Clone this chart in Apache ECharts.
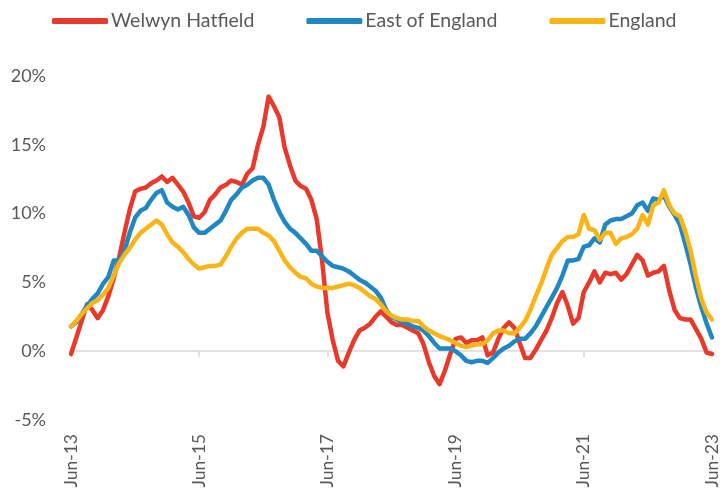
<!DOCTYPE html>
<html><head><meta charset="utf-8">
<script src="https://cdn.jsdelivr.net/npm/echarts@6/dist/echarts.min.js"></script>
<style>html,body{margin:0;padding:0;background:#fff}#c{width:723px;height:504px}</style>
</head><body><div id="c"></div>
<script>
const months = ['Jan','Feb','Mar','Apr','May','Jun','Jul','Aug','Sep','Oct','Nov','Dec'];
const categories = [];
for (let y = 2013, m = 5; categories.length < 121; ) {
  categories.push(months[m] + '-' + String(y).slice(2));
  m++; if (m > 11) { m = 0; y++; }
}
const welwynHatfield = [
-0.2,1.0,2.2,3.4,3.0,2.4,3.0,4.0,5.3,6.8,
8.6,10.3,11.6,11.8,11.9,12.2,12.4,12.7,12.3,12.6,
12.1,11.6,10.8,9.8,9.7,10.1,11.0,11.4,11.9,12.1,
12.4,12.3,12.1,12.9,13.3,15.0,16.3,18.5,17.8,17.0,
14.8,13.5,12.4,12.0,11.8,11.0,9.6,6.6,2.8,0.8,
-0.7,-1.1,-0.1,0.8,1.5,1.7,2.0,2.5,2.9,2.5,
2.1,1.9,1.9,1.7,1.5,1.3,0.5,-0.8,-1.8,-2.4,
-1.4,-0.2,0.9,1.0,0.6,0.8,0.8,1.0,-0.3,-0.1,
0.9,1.7,2.1,1.7,0.6,-0.5,-0.5,0.1,0.8,1.5,
2.4,3.5,4.3,3.3,2.0,2.4,4.3,5.0,5.8,5.0,
5.7,5.6,5.7,5.2,5.6,6.3,7.0,6.6,5.5,5.7,
5.8,6.2,4.4,3.0,2.4,2.3,2.3,1.6,0.9,-0.1,
-0.2];
const eastOfEngland = [
1.8,2.1,2.7,3.3,3.8,4.2,4.9,5.4,6.6,6.6,
7.3,8.6,9.7,10.2,10.4,11.0,11.5,11.7,10.8,10.5,
10.3,10.5,9.9,9.0,8.6,8.6,8.9,9.2,9.5,10.2,
11.0,11.4,11.9,12.1,12.4,12.6,12.6,12.1,11.0,10.1,
9.4,8.9,8.6,8.2,7.8,7.3,7.3,6.9,6.5,6.2,
6.1,6.0,5.8,5.5,5.2,5.0,4.7,4.4,3.9,3.0,
2.5,2.3,2.1,2.0,1.8,1.7,1.5,1.1,0.6,0.2,
0.2,0.2,0.0,-0.3,-0.7,-0.8,-0.7,-0.7,-0.85,-0.5,
-0.1,0.2,0.4,0.7,0.9,0.9,1.3,1.8,2.5,3.2,
3.9,4.6,5.5,6.6,6.6,6.7,7.6,7.7,8.2,7.9,
9.2,9.5,9.6,9.6,9.8,10.0,10.6,10.8,10.2,11.1,
11.0,11.3,10.5,9.9,9.2,7.8,6.3,4.6,3.2,2.0,
1.0];
const england = [
1.8,2.2,2.7,3.1,3.5,3.7,4.1,4.6,5.5,6.4,
7.0,7.5,8.1,8.6,8.9,9.2,9.5,9.2,8.5,7.9,
7.6,7.2,6.7,6.3,6.0,6.1,6.2,6.2,6.3,6.9,
7.6,8.2,8.6,8.9,8.9,8.9,8.6,8.4,8.0,7.3,
6.6,6.1,5.7,5.4,5.3,4.9,4.7,4.6,4.6,4.6,
4.7,4.8,4.9,4.8,4.6,4.3,4.0,3.8,3.4,2.9,
2.6,2.4,2.3,2.3,2.2,2.2,1.8,1.5,1.3,1.1,
0.95,0.8,0.6,0.4,0.3,0.4,0.5,0.5,0.8,1.3,
1.5,1.5,1.3,1.3,1.7,2.2,3.0,4.0,4.9,6.0,
7.0,7.5,8.0,8.3,8.3,8.5,9.9,8.9,8.8,8.1,
8.6,8.6,7.8,8.2,8.3,8.5,8.9,9.9,9.2,10.6,
10.8,11.7,10.6,10.0,9.8,8.7,7.3,5.4,3.8,2.8,
2.3];
const seriesNames = ['Welwyn Hatfield','East of England','England'];
const colors = ['#E8392A','#1F88C2','#FBB416'];

const font = 'Lato, "Open Sans", sans-serif';
const chart = echarts.init(document.getElementById('c'));
const mk = (name, data, color) => ({
  name, type: 'line', data, xAxisIndex: 0, yAxisIndex: 0,
  showSymbol: false, symbol: 'none', smooth: false,
  lineStyle: { color, width: 4.5, join: 'round', cap: 'round' },
  itemStyle: { color }
});
chart.setOption({
  animation: false,
  color: colors,
  legend: {
    top: 6, left: 47,
    itemWidth: 56, itemHeight: 6, itemGap: 52,
    icon: 'roundRect',
    textStyle: { color: '#595959', fontSize: 19.5, fontFamily: font, padding: [0,0,0,-2] },
    data: seriesNames
  },
  grid: { left: 71, right: 11, top: 76, bottom: 84, containLabel: false },
  xAxis: [{
    type: 'category', data: categories, boundaryGap: false, position: 'bottom',
    axisLine: { show: false, onZero: false },
    axisTick: { show: false },
    axisLabel: { interval: 23, rotate: 90, margin: 14, color: '#595959', fontSize: 17.5, fontFamily: font }
  }, {
    type: 'category', data: categories, boundaryGap: false, position: 'bottom',
    axisLine: { show: true, onZero: true, lineStyle: { color: '#D9D9D9', width: 1.5 } },
    axisTick: { show: true, interval: 23, length: 6, lineStyle: { color: '#D9D9D9', width: 1.5 } },
    axisLabel: { show: false },
    splitLine: { show: false }
  }],
  yAxis: {
    type: 'value', min: -5, max: 20, interval: 5,
    axisLine: { show: false }, axisTick: { show: false },
    splitLine: { show: false },
    axisLabel: { formatter: '{value}%', margin: 25, color: '#595959', fontSize: 18, fontFamily: font }
  },
  series: [
    mk(seriesNames[0], welwynHatfield, colors[0]),
    mk(seriesNames[1], eastOfEngland, colors[1]),
    mk(seriesNames[2], england, colors[2])
  ]
});
</script></body></html>
